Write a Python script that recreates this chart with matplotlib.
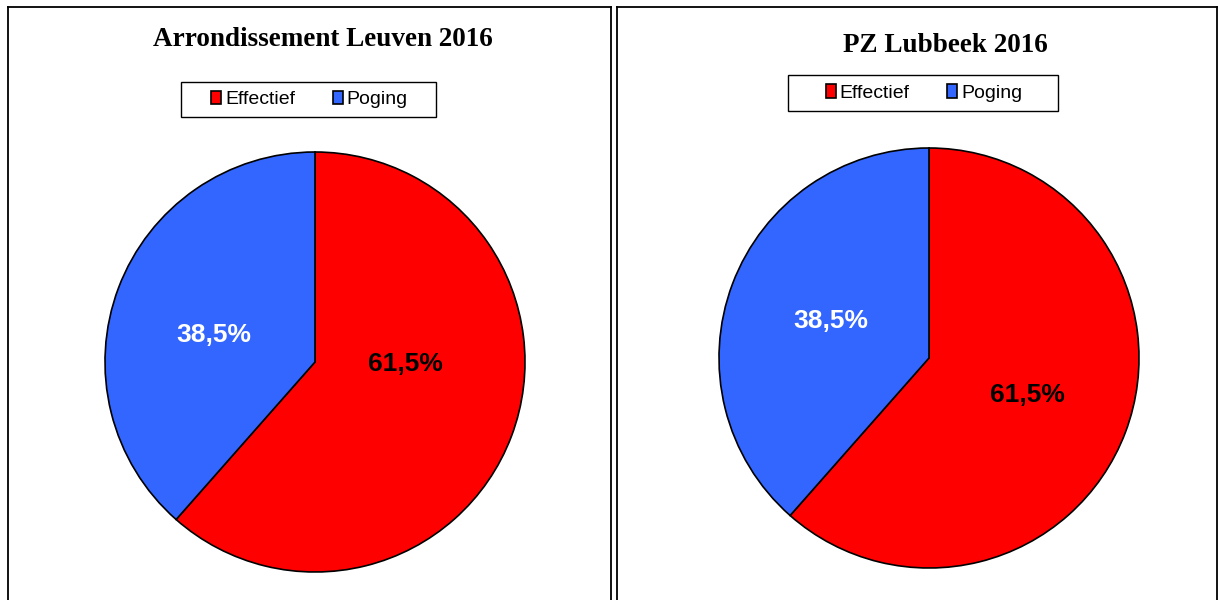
import matplotlib
matplotlib.use("Agg")
import matplotlib.pyplot as plt
from matplotlib.lines import Line2D
from matplotlib.patches import Rectangle

# data
categories = ["Effectief", "Poging"]
leuven = [61.5, 38.5]
lubbeek = [61.5, 38.5]
titles = ["Arrondissement Leuven 2016", "PZ Lubbeek 2016"]
colors = ["#ff0000", "#3366ff"]
label_colors = ["black", "white"]

W, H = 1220, 600
fig = plt.figure(figsize=(W / 100, H / 100), dpi=100)


def px(x, y):
    # pixel coords (top-left origin) -> figure fraction
    return x / W, 1 - y / H


def panel_frame(x0, x1, y0):
    kw = dict(color="black", lw=1.3, transform=fig.transFigure)
    fx0, fy0 = px(x0, y0)
    fx1, _ = px(x1, y0)
    fig.add_artist(Line2D([fx0, fx0], [fy0, -0.01], **kw))
    fig.add_artist(Line2D([fx1, fx1], [fy0, -0.01], **kw))
    fig.add_artist(Line2D([fx0, fx1], [fy0, fy0], **kw))


def legend_box(x0, y0, x1, y1):
    fx0, fy1 = px(x0, y1)
    fig.add_artist(Rectangle((fx0, fy1), (x1 - x0) / W, (y1 - y0) / H,
                             transform=fig.transFigure, facecolor="white",
                             edgecolor="black", lw=1.0, zorder=1))


def pie_panel(vals, title, cx, cy, r, title_xy, box, label_pos=None):
    l, b = (cx - r) / W, (H - cy - r) / H
    ax = fig.add_axes([l, b, 2 * r / W, 2 * r / H])
    wedges, _, autos = ax.pie(vals, colors=colors, startangle=90, counterclock=False,
                              autopct=lambda p: f"{p:.1f}%".replace(".", ","),
                              pctdistance=0.5,
                              wedgeprops=dict(edgecolor="black", linewidth=1.2),
                              textprops=dict(fontsize=19, fontweight="bold",
                                             family="Liberation Sans"))
    for t, c in zip(autos, label_colors):
        t.set_color(c)
    if label_pos:
        for t, p in zip(autos, label_pos):
            t.set_position(p)
    ax.set_xlim(-1, 1); ax.set_ylim(-1, 1)
    ax.set_aspect("auto")
    fig.text(*px(*title_xy), title, ha="center", va="center", fontsize=19.5,
             fontweight="bold", family="Liberation Serif")
    legend_box(*box)
    cxl = (box[0] + box[2]) / 2 + 1
    cyl = (box[1] + box[3]) / 2
    leg = fig.legend(wedges, categories, loc="center", bbox_to_anchor=px(cxl, cyl),
                     bbox_transform=fig.transFigure, ncol=2, frameon=False,
                     prop=dict(family="Liberation Sans", size=14),
                     handlelength=0.5, handleheight=0.7, handletextpad=0.2,
                     columnspacing=1.95, borderpad=0.3)
    leg.set_zorder(2)
    return ax


panel_frame(8, 611, 7)
panel_frame(617, 1217, 7)

pie_panel(leuven, titles[0], 315, 362, 210, (323, 39), (181, 82, 436, 117),
          label_pos=[(0.43, -0.01), (-0.48, 0.13)])
pie_panel(lubbeek, titles[1], 929, 358, 210, (945, 46), (788, 75, 1058, 111))

fig.savefig("out.png", dpi=100)
